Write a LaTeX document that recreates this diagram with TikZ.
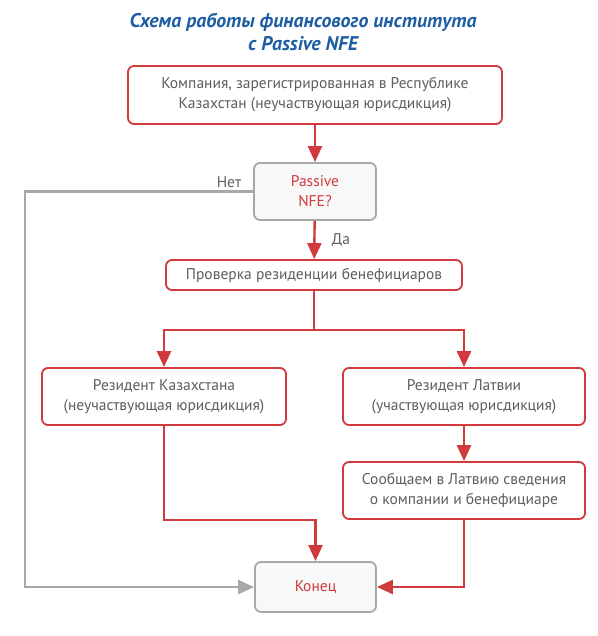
\documentclass[tikz,border=0pt]{standalone}
\usepackage{fontspec}
\setmainfont{PT Sans}
\usetikzlibrary{arrows.meta,positioning,calc}
\definecolor{rd}{HTML}{D13A3C}
\definecolor{gr}{HTML}{A8A8A8}
\definecolor{tx}{HTML}{5E5E5E}
\definecolor{ttl}{HTML}{1D5EA3}
\definecolor{fl}{HTML}{F8F8F8}
\begin{document}
\begin{tikzpicture}[x=1pt,y=-1pt,
  redbox/.style={draw=rd,line width=1.8pt,rounded corners=6pt,fill=white,text=tx,align=center,inner sep=0pt,font=\fontsize{15.5}{20}\selectfont},
  graybox/.style={draw=gr,line width=1.8pt,rounded corners=6pt,fill=fl,text=rd,align=center,inner sep=0pt,font=\fontsize{15.5}{20}\selectfont},
  rarr/.style={draw=rd,line width=2.4pt,-{Triangle[width=14pt,length=16pt]},color=rd},
  rline/.style={draw=rd,line width=2.4pt},
  garr/.style={draw=gr,line width=2.2pt,-{Triangle[width=14pt,length=16pt]},color=gr},
  lbl/.style={text=tx,font=\fontsize{15.5}{18}\selectfont}
]
\useasboundingbox (0,0) rectangle (597,636);
\node[text=ttl,font=\fontsize{19.8}{23}\selectfont\bfseries\itshape,align=center] (title) at (303,32) {Схема работы финансового института\\с Passive NFE};
\node[redbox,minimum width=374pt,minimum height=58pt] (b1) at (315,95) {Компания, зарегистрированная в Республике\\Казахстан (неучаствующая юрисдикция)};
\node[graybox,minimum width=122pt,minimum height=57pt] (b2) at (315,191.5) {Passive\\NFE?};
\node[redbox,minimum width=296pt,minimum height=30pt] (b3) at (314,275) {Проверка резиденции бенефициаров};
\node[redbox,minimum width=244pt,minimum height=57pt] (b4l) at (164,396.5) {Резидент Казахстана\\(неучаствующая юрисдикция)};
\node[redbox,minimum width=242pt,minimum height=57pt] (b4r) at (464,396.5) {Резидент Латвии\\(участвующая юрисдикция)};
\node[redbox,minimum width=242pt,minimum height=57pt] (b5) at (464,490.5) {Сообщаем в Латвию сведения\\о компании и бенефициаре};
\node[graybox,minimum width=121pt,minimum height=50pt] (end) at (315.5,587) {Конец};
\coordinate (split) at (314,330);
\coordinate (nL) at (25,191.5);
\coordinate (lJoin) at (164,520);
\node[lbl] (net) at (229,182) {Нет};
\node[lbl] (da) at (341,240) {Да};
\draw[rarr] (b1) -- (b2);
\draw[rarr] (b2) -- (b3);
\draw[rline] (b3.south) -- (split);
\draw[rarr] (split) -| (b4l.north);
\draw[rarr] (split) -| (b4r.north);
\draw[rarr] (b4r) -- (b5);
\draw[rarr] (b4l.south) -- (lJoin) -| (end.north);
\draw[rarr] (b5.south) |- (end.east);
\draw[garr] (b2.west) -- (nL) |- (end.west);
\end{tikzpicture}
\end{document}
